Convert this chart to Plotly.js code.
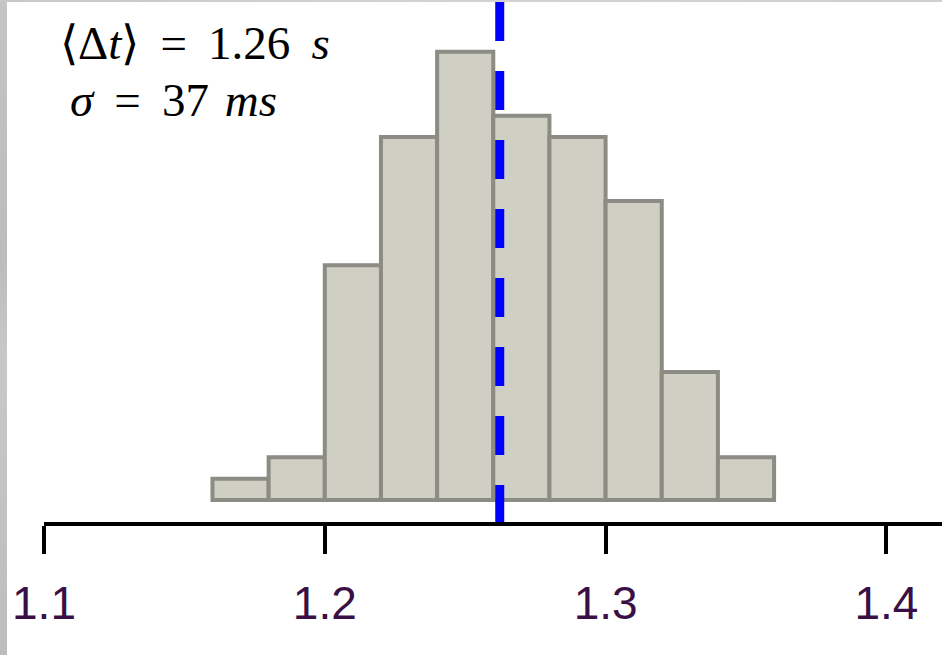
<!DOCTYPE html>
<html>
<head>
<meta charset="utf-8">
<script src="https://cdn.plot.ly/plotly-3.0.1.min.js"></script>
<style>
  html, body { margin: 0; padding: 0; background: #ffffff; }
  #chart { width: 942px; height: 655px; }
  .edge-left { position: absolute; left: 0; top: 0; width: 7px; height: 655px;
               background: linear-gradient(#c4c4c4, #bcbcbc 40%, #c8c8c8 55%, #bdbdbd); pointer-events: none; }
  .edge-top  { position: absolute; left: 0; top: 0; width: 942px; height: 2px;
               background: linear-gradient(90deg, #c8c8c8, #d6d2d2 50%, #cfcfcf); pointer-events: none; }
</style>
</head>
<body>
<div id="chart"></div>
<div class="edge-left"></div>
<div class="edge-top"></div>
<script>
// Histogram of measured intervals Δt (seconds), bins of 20 ms
const binCenters = [1.17, 1.19, 1.21, 1.23, 1.25, 1.27, 1.29, 1.31, 1.33, 1.35];
const counts     = [1, 2, 11, 17, 21, 18, 17, 14, 6, 2];
const binWidth   = 0.02;

// Mean interval marked by the dashed line
const meanDt = 1.2623;

const tickValues = [1.1, 1.2, 1.3, 1.4];
const tickLabels = ['1.1', '1.2', '1.3', '1.4'];

// Math-style spacing around the relation sign
const meanText  = '⟨Δ<i>t</i>⟩ \u2009=\u2009 1.26\u2009 <i>s</i>';
const sigmaText = '<i>σ</i> \u2009=\u2009 37\u200a <i>ms</i>';

const W = 942, H = 655;
const M = { l: 44, r: 0, t: 2, b: 133 };
const plotW = W - M.l - M.r, plotH = H - M.t - M.b;
const px = x => (x - M.l) / plotW;          // page x -> paper x
const py = y => (H - M.b - y) / plotH;      // page y -> paper y

const trace = {
  type: 'bar',
  x: binCenters,
  y: counts,
  width: binWidth,
  marker: { color: '#cfcfc4', line: { color: '#8c8c85', width: 4 } },
  hoverinfo: 'x+y'
};

const layout = {
  width: W, height: H,
  margin: M,
  paper_bgcolor: '#ffffff',
  plot_bgcolor: '#ffffff',
  showlegend: false,
  xaxis: {
    range: [1.1, 1.1 + plotW / 2808],
    tickvals: tickValues,
    ticktext: tickLabels,
    showgrid: false,
    zeroline: false,
    showline: true,
    linecolor: '#000000',
    linewidth: 4,
    ticks: 'outside',
    ticklen: 28,
    tickwidth: 4,
    tickcolor: '#000000',
    ticklabelstandoff: 10,
    tickfont: { family: 'Liberation Sans, Arial, sans-serif', size: 46, color: '#3a0f45' }
  },
  yaxis: {
    range: [-22 / 21.35, (plotH - 22) / 21.35],
    visible: false,
    showgrid: false,
    zeroline: false
  },
  shapes: [{
    type: 'line', xref: 'x', yref: 'paper',
    x0: meanDt, x1: meanDt, y0: 1, y1: 0,
    line: { color: '#0000ff', width: 9, dash: '39px,30px' },
    layer: 'above'
  }],
  annotations: [
    { text: meanText, xref: 'paper', yref: 'paper', x: px(58), y: py(43),
      xanchor: 'left', yanchor: 'middle', showarrow: false,
      font: { family: 'Liberation Serif, serif', size: 47, color: '#000000' } },
    { text: sigmaText, xref: 'paper', yref: 'paper', x: px(68), y: py(100),
      xanchor: 'left', yanchor: 'middle', showarrow: false,
      font: { family: 'Liberation Serif, serif', size: 47, color: '#000000' } }
  ]
};

Plotly.newPlot('chart', [trace], layout, { displayModeBar: false, staticPlot: true });
</script>
</body>
</html>
